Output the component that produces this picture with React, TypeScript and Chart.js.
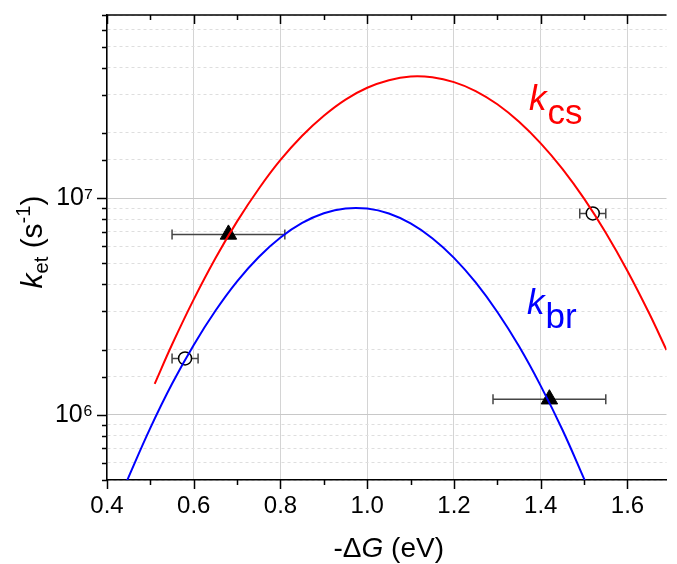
import React, { useEffect, useRef } from 'react';
import { Chart, registerables } from 'chart.js';

Chart.register(...registerables);

const FAM = "'Liberation Sans', Arial, Helvetica, sans-serif";

// k_cs curve (red)
const kcsX = [0.51, 0.55, 0.6, 0.65, 0.7, 0.75, 0.8, 0.85, 0.9, 0.95, 1.0, 1.05, 1.1, 1.15, 1.2, 1.25, 1.3, 1.35, 1.4, 1.45, 1.5, 1.55, 1.6, 1.65, 1.69];
const kcsY = [1.39e6, 2.11e6, 3.41e6, 5.28e6, 7.81e6, 1.105e7, 1.5e7, 1.94e7, 2.4e7, 2.85e7, 3.23e7, 3.5e7, 3.64e7, 3.61e7, 3.43e7, 3.12e7, 2.71e7, 2.25e7, 1.79e7, 1.365e7, 9.94e6, 6.92e6, 4.61e6, 2.94e6, 1.99e6];

// k_br curve (blue)
const kbrX = [0.44, 0.45, 0.5, 0.55, 0.6, 0.65, 0.7, 0.75, 0.8, 0.85, 0.9, 0.95, 1.0, 1.05, 1.1, 1.15, 1.2, 1.25, 1.3, 1.35, 1.4, 1.45, 1.5, 1.51];
const kbrY = [4.63e5, 5.17e5, 8.7e5, 1.39e6, 2.1e6, 3.02e6, 4.13e6, 5.35e6, 6.58e6, 7.68e6, 8.51e6, 8.96e6, 8.95e6, 8.49e6, 7.64e6, 6.53e6, 5.3e6, 4.08e6, 2.98e6, 2.07e6, 1.36e6, 8.53e5, 5.06e5, 4.53e5];

// measured points
const triX = [0.68, 1.42];
const triY = [6.8e6, 1.18e6];
const triErr = [0.13, 0.13];
const circX = [0.58, 1.52];
const circY = [1.82e6, 8.5e6];
const circErr = [0.03, 0.03];

// axes
const xMin = 0.4;
const xMax = 1.69;
const xStep = 0.1;
const yMin = 5e5;
const yMax = 7e7;
const yLabelValues = [1e6, 1e7];
const yLabelTexts = ['10\u2076', '10\u2077'];

const isDecade = (v: number) => Math.abs(Math.log10(v) - Math.round(Math.log10(v))) < 1e-6;
const isMajorX = (v: number) => Math.round(v * 10) % 2 === 0;

function drawParts(ctx: CanvasRenderingContext2D, parts: { t: string; f: string; dy: number }[], cx: number, by: number) {
  let total = 0;
  for (const p of parts) { ctx.font = p.f; total += ctx.measureText(p.t).width; }
  let x = cx - total / 2;
  for (const p of parts) {
    ctx.font = p.f;
    ctx.fillText(p.t, x, by + p.dy);
    x += ctx.measureText(p.t).width;
  }
}

const decor = {
  id: 'decor',
  beforeDatasetsDraw(chart: any) {
    const ctx = chart.ctx as CanvasRenderingContext2D;
    const xs = chart.scales.x;
    const ys = chart.scales.y;
    ctx.save();
    ctx.strokeStyle = '#454545';
    ctx.lineWidth = 1.5;
    const bars = (X: number[], Y: number[], E: number[]) => {
      for (let i = 0; i < X.length; i++) {
        const x1 = xs.getPixelForValue(X[i] - E[i]);
        const x2 = xs.getPixelForValue(X[i] + E[i]);
        const y = ys.getPixelForValue(Y[i]);
        ctx.beginPath();
        ctx.moveTo(x1, y); ctx.lineTo(x2, y);
        ctx.moveTo(x1, y - 5); ctx.lineTo(x1, y + 5);
        ctx.moveTo(x2, y - 5); ctx.lineTo(x2, y + 5);
        ctx.stroke();
      }
    };
    bars(triX, triY, triErr);
    bars(circX, circY, circErr);
    ctx.restore();
  },
  afterDraw(chart: any) {
    const ctx = chart.ctx as CanvasRenderingContext2D;
    const a = chart.chartArea;
    const xs = chart.scales.x;
    const ys = chart.scales.y;
    ctx.save();
    ctx.strokeStyle = '#000';
    ctx.lineWidth = 1.5;
    // top border
    ctx.beginPath();
    ctx.moveTo(a.left, a.top); ctx.lineTo(a.right, a.top);
    ctx.stroke();
    // tick marks
    ctx.beginPath();
    for (const t of xs.ticks) {
      const px = Math.round(xs.getPixelForValue(t.value)) + 0.5;
      const len = isMajorX(t.value) ? 9 : 5;
      ctx.moveTo(px, a.bottom); ctx.lineTo(px, a.bottom + len);
      ctx.moveTo(px, a.top); ctx.lineTo(px, a.top + len);
    }
    for (const t of ys.ticks) {
      const py = Math.round(ys.getPixelForValue(t.value)) + 0.5;
      const len = isDecade(t.value) ? 10 : 5;
      ctx.moveTo(a.left - len, py); ctx.lineTo(a.left, py);
    }
    ctx.stroke();

    ctx.fillStyle = '#000';
    ctx.textBaseline = 'alphabetic';
    // x title
    drawParts(ctx, [
      { t: '-\u0394', f: `28px ${FAM}`, dy: 0 },
      { t: 'G', f: `italic 28px ${FAM}`, dy: 0 },
      { t: ' (eV)', f: `28px ${FAM}`, dy: 0 },
    ], (a.left + a.right) / 2 + 2, 557);
    // y title
    ctx.save();
    ctx.translate(42, 242);
    ctx.rotate(-Math.PI / 2);
    drawParts(ctx, [
      { t: 'k', f: `italic 30px ${FAM}`, dy: 0 },
      { t: 'et', f: `20px ${FAM}`, dy: 6 },
      { t: ' (s', f: `30px ${FAM}`, dy: 0 },
      { t: '-1', f: `20px ${FAM}`, dy: -12 },
      { t: ')', f: `30px ${FAM}`, dy: 0 },
    ], 0, 0);
    ctx.restore();

    // curve labels
    const label = (main: string, sub: string, color: string, x: number, y: number) => {
      ctx.fillStyle = color;
      ctx.font = `italic 35px ${FAM}`;
      ctx.fillText(main, x, y);
      const w = ctx.measureText(main).width;
      ctx.font = `35px ${FAM}`;
      ctx.fillText(sub, x + w + 1, y + 14);
    };
    label('k', 'cs', '#ff0000', 529, 110);
    label('k', 'br', '#0000ff', 527, 314);
    ctx.restore();
  },
};

export default function App() {
  const ref = useRef<HTMLCanvasElement>(null);
  useEffect(() => {
    if (!ref.current) return;
    const chart = new Chart(ref.current, {
      type: 'scatter',
      data: {
        datasets: [
          {
            data: kcsX.map((x, i) => ({ x, y: kcsY[i] })),
            showLine: true,
            borderColor: '#ff0000',
            borderWidth: 2,
            pointRadius: 0,
            tension: 0.4,
          },
          {
            data: kbrX.map((x, i) => ({ x, y: kbrY[i] })),
            showLine: true,
            borderColor: '#0000ff',
            borderWidth: 2,
            pointRadius: 0,
            tension: 0.4,
          },
          {
            data: triX.map((x, i) => ({ x, y: triY[i] })),
            pointStyle: 'triangle',
            pointRadius: 9.5,
            backgroundColor: '#000',
            borderColor: '#000',
            borderWidth: 1,
          },
          {
            data: circX.map((x, i) => ({ x, y: circY[i] })),
            pointStyle: 'circle',
            pointRadius: 6.5,
            backgroundColor: '#fff',
            borderColor: '#000',
            borderWidth: 1.5,
          },
        ],
      } as any,
      options: {
        animation: false,
        responsive: false,
        devicePixelRatio: 1,
        layout: { padding: { top: 15, left: 0, right: 0, bottom: 0 } },
        plugins: { legend: { display: false }, tooltip: { enabled: false } },
        scales: {
          x: {
            type: 'linear',
            min: xMin,
            max: xMax,
            afterFit: (s: any) => { s.height = 84; s.paddingLeft = 0; s.paddingRight = 0; },
            ticks: {
              stepSize: xStep,
              autoSkip: false,
              maxRotation: 0,
              includeBounds: false,
              padding: 12,
              color: '#000',
              font: { family: FAM, size: 24 },
              callback: (v: any) => (isMajorX(Number(v)) ? Number(v).toFixed(1) : ''),
            },
            grid: {
              drawTicks: false,
              lineWidth: 1,
              color: (c: any) => (c.tick && isMajorX(c.tick.value) ? '#d4d4d4' : 'rgba(0,0,0,0)'),
            },
            border: { color: '#000', width: 1.5 },
          },
          y: {
            type: 'logarithmic',
            min: yMin,
            max: yMax,
            afterFit: (s: any) => { s.width = 107; s.paddingTop = 0; s.paddingBottom = 0; },
            ticks: {
              autoSkip: false,
              padding: 14,
              color: '#000',
              font: { family: FAM, size: 25 },
              callback: (v: any) => {
                const idx = yLabelValues.findIndex((w) => Math.abs(w - Number(v)) / w < 1e-6);
                return idx >= 0 ? yLabelTexts[idx] : '';
              },
            },
            grid: {
              drawTicks: false,
              lineWidth: 1,
              color: (c: any) => (c.tick && isDecade(c.tick.value) ? '#c8c8c8' : '#dedede'),
            },
            border: {
              color: '#000',
              width: 1.5,
              dash: (c: any) => (c.tick && !isDecade(c.tick.value) ? [3, 3] : []),
            },
          },
        },
      } as any,
      plugins: [decor],
    });
    return () => chart.destroy();
  }, []);
  return (
    <div style={{ position: 'fixed', left: 0, top: 0, width: 677, height: 564, background: '#fff' }}>
      <canvas ref={ref} width={677} height={564} style={{ display: 'block' }} />
    </div>
  );
}
